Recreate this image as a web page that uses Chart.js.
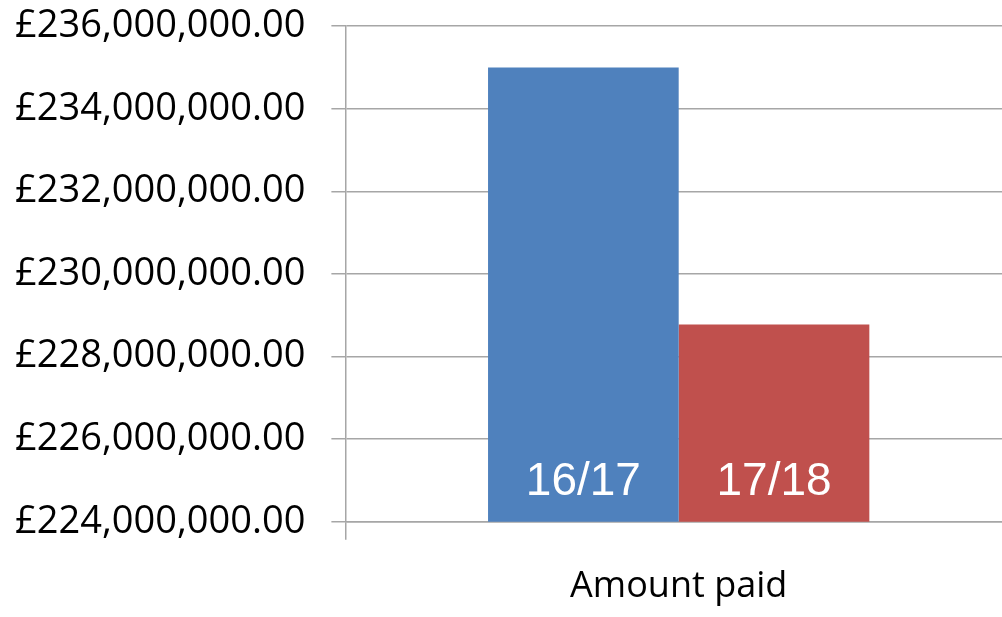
<!DOCTYPE html>
<html lang="en">
    <head>
        <meta charset="UTF-8" />
        <title>Amount paid</title>
        <script src="https://cdn.jsdelivr.net/npm/chart.js"></script>
        <style>
            html, body { margin: 0; padding: 0; background: #fff; overflow: hidden; }
            .chartContainer { position: relative; width: 1012px; height: 617px; }
        </style>
    </head>
    <body>
        <div class="chartContainer">
            <canvas id="paidChart"></canvas>
        </div>

        <script>
            // data
            const categories = ['Amount paid'];
            const seriesNames = ['16/17', '17/18'];
            const paid1617 = [235000000];
            const paid1718 = [228780000];
            const yTicks = [224000000, 226000000, 228000000, 230000000, 232000000, 234000000, 236000000];

            const gridGrey = '#a6a6a6';

            function money(v) {
                return '£' + v.toLocaleString('en-GB', { minimumFractionDigits: 2, maximumFractionDigits: 2 });
            }

            // writes the series name inside the foot of each bar
            const insideLabels = {
                id: 'insideLabels',
                afterDraw(chart) {
                    const c = chart.ctx;
                    const bottom = chart.chartArea.bottom;
                    c.save();
                    c.fillStyle = '#ffffff';
                    c.font = '46px "Liberation Sans", Arial, sans-serif';
                    c.textAlign = 'center';
                    c.textBaseline = 'alphabetic';
                    chart.data.datasets.forEach((ds, i) => {
                        const meta = chart.getDatasetMeta(i);
                        meta.data.forEach(bar => {
                            const p = bar.getProps(['x'], true);
                            c.fillText(ds.label, p.x, bottom - 27);
                        });
                    });
                    c.restore();
                }
            };

            const canvas = document.getElementById('paidChart');
            new Chart(canvas, {
                type: 'bar',
                data: {
                    labels: categories,
                    datasets: [
                        { label: seriesNames[0], data: paid1617, backgroundColor: '#4F81BD' },
                        { label: seriesNames[1], data: paid1718, backgroundColor: '#C0504D' }
                    ]
                },
                options: {
                    responsive: true,
                    maintainAspectRatio: false,
                    animation: false,
                    categoryPercentage: 0.572,
                    barPercentage: 1.0,
                    layout: { padding: { top: 0, left: -11, right: 0, bottom: -16 } },
                    plugins: {
                        legend: { display: false },
                        tooltip: { enabled: false }
                    },
                    scales: {
                        x: {
                            offset: true,
                            grid: {
                                display: true,
                                offset: true,
                                drawOnChartArea: false,
                                drawTicks: true,
                                tickLength: 18,
                                color: gridGrey,
                                lineWidth: 1.5
                            },
                            border: { display: true, color: gridGrey, width: 1.5 },
                            ticks: {
                                color: '#000',
                                padding: 25,
                                font: { family: '"Open Sans", sans-serif', size: 36 }
                            }
                        },
                        y: {
                            min: 224000000,
                            max: 236000000,
                            afterBuildTicks(axis) {
                                axis.ticks = yTicks.map(v => ({ value: v }));
                            },
                            grid: {
                                color: gridGrey,
                                lineWidth: 1.5,
                                tickLength: 14
                            },
                            border: { display: true, color: gridGrey, width: 1.5 },
                            ticks: {
                                color: '#000',
                                padding: 26,
                                callback: v => money(v),
                                font: { family: '"Open Sans", sans-serif', size: 38, lineHeight: 0.01 }
                            }
                        }
                    }
                },
                plugins: [insideLabels]
            });
        </script>
    </body>
</html>
